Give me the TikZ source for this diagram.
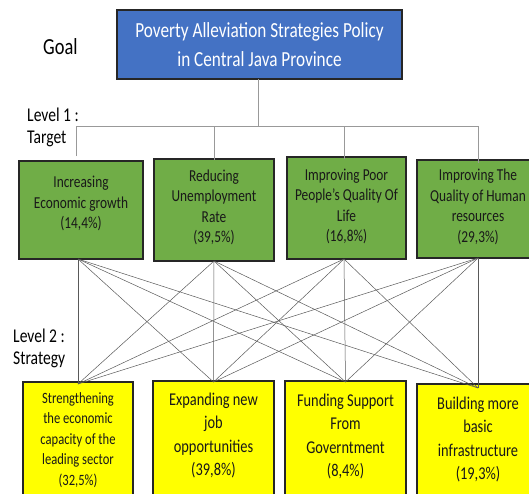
\documentclass[tikz,border=0pt]{standalone}
\usepackage{fontspec}
\newfontfamily\calf[FakeStretch=0.8]{Carlito}
\definecolor{goalblue}{HTML}{4472C4}
\definecolor{tgreen}{HTML}{70AD47}
\definecolor{syellow}{HTML}{FFFF00}
\tikzset{
  boxbase/.style={draw=black!85, line width=1.2pt, inner sep=0pt, outer sep=0pt},
  goalbox/.style={boxbase, fill=goalblue, minimum width=285pt, minimum height=69pt},
  greenbox/.style={boxbase, fill=tgreen, minimum height=98pt},
  yellowbox/.style={boxbase, fill=syellow, anchor=north, minimum height=130pt},
  gtext/.style={align=center, inner sep=0pt, font=\calf\fontsize{16.7}{20.5}\selectfont, text=black!90},
  ytext/.style={align=center, inner sep=0pt, font=\calf\fontsize{18}{23.5}\selectfont, text=black!90},
  ytextsmall/.style={align=center, inner sep=0pt, font=\calf\fontsize{15.7}{20.5}\selectfont, text=black!90},
  lab/.style={align=left, anchor=west, inner sep=0pt, font=\calf\fontsize{19.5}{24}\selectfont},
  tree/.style={draw=black!40, line width=1pt},
  cross/.style={draw=black!65, line width=0.5pt},
}
\begin{document}
\begin{tikzpicture}[x=1pt,y=-1pt]
\useasboundingbox (0,0) rectangle (529,493);
\clip (0,0) rectangle (529,493);
% goal
\node[goalbox] (goal) at (259.5,44.5) {};
\node[align=center, inner sep=0pt, text=white, font=\calf\fontsize{21.5}{29}\selectfont] (goalt) at (259.5,44.5) {Poverty Alleviation Strategies Policy\\in Central Java Province};
\node[lab, font=\calf\fontsize{23}{28}\selectfont] (goallab) at (43,47) {Goal};
\node[lab] (lv1a) at (27,115) {Level 1 :};
\node[lab] (lv1b) at (27,139) {Target};
\node[lab] (lv2a) at (13,336) {Level 2 :};
\node[lab] (lv2b) at (13,360) {Strategy};
% targets
\node[greenbox, minimum width=124pt] (g1) at (81,210) {};
\node[greenbox, minimum width=120pt, minimum height=102pt] (g2) at (214,210) {};
\node[greenbox, minimum width=119pt, minimum height=102pt] (g3) at (346.5,208) {};
\node[greenbox, minimum width=122pt] (g4) at (478,209) {};
\node[gtext] (g1t) at (81,203.5) {Increasing\\Economic growth\\(14,4\%)};
\node[gtext] (g2t) at (214,207.5) {Reducing\\Unemployment\\Rate\\(39,5\%)};
\node[gtext] (g3t) at (346.5,206.5) {Improving Poor\\People’s Quality Of\\Life\\(16,8\%)};
\node[gtext] (g4t) at (478,207) {Improving The\\Quality of Human\\resources\\(29,3\%)};
% strategies
\node[yellowbox, minimum width=110pt] (y1) at (78,382) {};
\node[yellowbox, minimum width=121pt] (y2) at (213.5,381) {};
\node[yellowbox, minimum width=121pt] (y3) at (345.5,381) {};
\node[yellowbox, minimum width=122pt] (y4) at (478,384) {};
\node[ytextsmall] (y1t) at (78,440) {Strengthening\\the economic\\capacity of the\\leading sector\\(32,5\%)};
\node[ytext] (y2t) at (213.5,435.5) {Expanding new\\job\\opportunities\\(39,8\%)};
\node[ytext] (y3t) at (345.5,436.5) {Funding Support\\From\\Governtment\\(8,4\%)};
\node[ytext] (y4t) at (478,439.5) {Building more\\basic\\infrastructure\\(19,3\%)};
% tree from goal to targets
\coordinate (bus) at (258,126);
\draw[tree] (goal.south -| bus) -- (bus);
\draw[tree] ([xshift=-5pt]g1.north) ++(0,-5) coordinate (t1) -- (t1 |- bus) -- (bus -| g4.north) -- ([yshift=-3pt]g4.north);
\draw[tree] ([yshift=-1pt]g2.north) -- (g2.north |- bus);
\draw[tree] ([xshift=-2.5pt,yshift=-2pt]g3.north) -- ([xshift=-2.5pt]g3.north |- bus);
% connection points
\coordinate (p1) at ([xshift=-3pt]g1.south);
\coordinate (p2) at (g2.south);
\coordinate (p3) at ([xshift=-2.5pt]g3.south);
\coordinate (p4) at (g4.south);
\coordinate (q1) at ([yshift=-2pt]y1.north);
\coordinate (q2) at ([yshift=-1pt]y2.north);
\coordinate (q3) at ([yshift=-1pt]y3.north);
\coordinate (q4) at ([yshift=-4pt]y4.north);
\foreach \a in {1,2,3,4}{
  \foreach \b in {1,2,3,4}{
    \draw[cross] (p\a) -- (q\b);
  }
}
\end{tikzpicture}
\end{document}
